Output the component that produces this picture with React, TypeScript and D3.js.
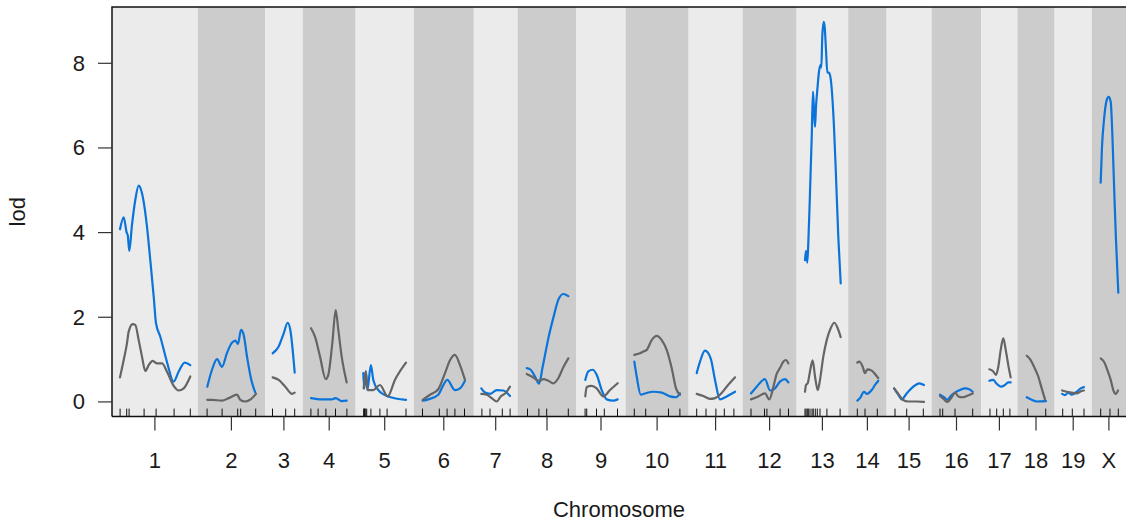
import React from "react";
import * as d3 from "d3";

const chrNames = ["1","2","3","4","5","6","7","8","9","10","11","12","13","14","15","16","17","18","19","X"];
const chrLengths = [118,87,38,63,72,75,48,73,57,80,65,65,61,39,50,58,35,37,37,32];
const gapCM = 25;

const markers: number[][] = [
  [1,12,16,41,61,91,118],
  [3,28,54,59,84],
  [0,22,37],
  [1,13,26,42,61],
  [1,2,3,3.5,6,13,28,40,71.5],
  [2,30,43,56,72],
  [1,14.5,35,48],
  [4,23,36,72],
  [2,4.7,21,34,56],
  [2,21,59,78],
  [1,16.5,33,47,63],
  [1.5,24,28,50,64],
  [1.5,3.2,5.3,7,9.8,13.2,15.3,18.7,22,26.5,38,60],
  [2.7,15.5,36],
  [1.5,21,48.7],
  [1.5,6,26.5,56],
  [1.8,13,24,35],
  [4.7,34.7],
  [1,17,36.5],
  [2.3,17.8,31.7],
];

const lodBlue: number[][][] = [
  [[0.8,4.08],[7,4.36],[12,4.0],[13.7,3.94],[16.3,3.57],[20.8,4.18],[26.3,4.77],[32,5.11],[37.5,4.93],[45.8,4.14],[51.3,3.35],[57,2.49],[60.8,1.86],[68,1.54],[79,0.95],[90.3,0.48],[98.7,0.72],[108.7,0.93],[118,0.87]],
  [[3.3,0.36],[11.2,0.76],[19.5,1.01],[27.8,0.83],[36.2,1.16],[44.5,1.40],[50,1.45],[54.5,1.37],[59.5,1.70],[64,1.58],[69.5,1.07],[76.7,0.52],[83.3,0.22]],
  [[0.3,1.15],[10.3,1.31],[18.7,1.62],[25.3,1.87],[29.7,1.70],[37,0.69]],
  [[1.2,0.09],[19,0.06],[35.7,0.06],[42.3,0.09],[52.3,0.02],[60.7,0.03]],
  [[0.3,0.68],[2,0.32],[4.8,0.72],[7,0.28],[13,0.87],[17,0.52],[25.3,0.28],[42,0.13],[71.5,0.05]],
  [[2.3,0.03],[11.7,0.06],[28.3,0.17],[34,0.32],[43.3,0.52],[56,0.28],[64.5,0.32],[72.8,0.50]],
  [[0,0.32],[6.2,0.22],[14.5,0.19],[25.7,0.28],[36.7,0.27],[47.8,0.14]],
  [[2.7,0.80],[9.3,0.76],[16.5,0.60],[23.2,0.43],[29.3,0.83],[38.7,1.50],[48.2,2.05],[55.3,2.41],[63.7,2.55],[72,2.50]],
  [[2.3,0.52],[7.3,0.72],[14.7,0.76],[21.3,0.64],[29.7,0.28],[38,0.06],[49,0.03],[56.3,0.06]],
  [[2,0.95],[6,0.60],[12.7,0.17],[19.8,0.20],[33.7,0.24],[47.7,0.22],[61.5,0.13],[71.5,0.11],[78.2,0.20]],
  [[1,0.68],[6.5,0.95],[14.8,1.21],[24.3,1.03],[31.5,0.52],[39.8,0.06],[51,0.13],[65,0.24]],
  [[1.5,0.20],[11,0.36],[24.8,0.54],[33.2,0.27],[41.5,0.32],[49.8,0.48],[58.2,0.54],[63.7,0.46]],
  [[1.5,3.35],[3.2,3.57],[5.3,3.29],[7,3.75],[9.8,4.93],[12.7,6.26],[14.8,7.33],[16.5,6.89],[18.2,6.50],[19.8,6.97],[22,7.37],[24.8,7.80],[27,7.96],[28.7,7.90],[30.3,8.63],[32.7,8.98],[34.3,8.86],[36.5,8.31],[38.7,7.78],[41.5,7.78],[44.3,7.64],[47,7.21],[49.8,6.50],[53.2,5.32],[57,3.90],[61,2.80]],
  [[2.7,0.03],[7.2,0.09],[13.8,0.24],[18.3,0.19],[26.7,0.28],[32.2,0.40],[37.7,0.50]],
  [[0,0.32],[7,0.17],[12.7,0.06],[21,0.20],[32,0.36],[42,0.44],[49.8,0.40]],
  [[1.5,0.17],[8.2,0.11],[13.7,0.05],[19.3,0.14],[26.5,0.22],[34.8,0.28],[43.2,0.32],[50.3,0.30],[56,0.24]],
  [[0.7,0.50],[7.3,0.52],[13,0.43],[19.7,0.36],[26.8,0.40],[32.3,0.46],[36.3,0.46]],
  [[3,0.11],[11.3,0.05],[19.7,0.01],[35.2,0.02]],
  [[0,0.19],[4.8,0.16],[10.3,0.22],[16,0.17],[24.3,0.24],[31,0.32],[36.5,0.35]],
  [[2.3,5.18],[4.5,6.03],[7.8,6.66],[12.3,7.13],[15.7,7.21],[19,7.09],[21.7,6.34],[25,4.93],[27.8,3.83],[31.7,2.58]],
];

const lodGray: number[][][] = [
  [[0.8,0.58],[7,0.99],[12.5,1.39],[15.3,1.66],[22,1.84],[26.3,1.82],[32,1.46],[37.5,1.07],[43,0.73],[48.7,0.87],[55.3,0.97],[62.5,0.91],[70.8,0.91],[79,0.72],[90.3,0.38],[98.7,0.27],[107,0.32],[118,0.6]],
  [[3.3,0.05],[11.2,0.05],[27.8,0.03],[39,0.09],[52.8,0.17],[58.3,0.05],[66.2,0.01],[74.5,0.05],[84.5,0.19]],
  [[0.3,0.58],[10.3,0.52],[21.3,0.36],[32.5,0.19],[37,0.22]],
  [[1.2,1.74],[7.8,1.54],[16.2,1.07],[25.7,0.54],[30,0.64],[36.7,1.39],[42.3,2.17],[46.7,1.70],[52.3,1.07],[60.7,0.46]],
  [[1,0.32],[4.3,0.72],[7.7,0.28],[17,0.28],[28,0.40],[41,0.13],[53,0.52],[71.5,0.93]],
  [[2.3,0.05],[14.5,0.17],[28.3,0.30],[39.5,0.68],[48,0.99],[56,1.11],[64.5,0.87],[72.8,0.52]],
  [[0,0.19],[9,0.17],[17.3,0.09],[25.7,0.01],[32.3,0.13],[41.2,0.22],[47.8,0.36]],
  [[2.7,0.66],[11,0.60],[19.3,0.52],[24.8,0.50],[30.3,0.54],[38.7,0.50],[47,0.44],[55.3,0.56],[63.7,0.82],[72,1.03]],
  [[2.3,0.13],[4.7,0.35],[13,0.38],[21.3,0.32],[32.3,0.13],[43.5,0.28],[56.3,0.44]],
  [[2,1.11],[11.5,1.15],[17,1.19],[22.7,1.23],[31,1.46],[39.3,1.56],[47.7,1.46],[56,1.23],[64.3,0.80],[71.5,0.32],[78.2,0.17]],
  [[1,0.19],[12,0.14],[23,0.07],[31.5,0.09],[39.8,0.17],[51,0.36],[65,0.58]],
  [[1.5,0.06],[13.7,0.13],[24.8,0.20],[32,0.06],[38.7,0.35],[44.3,0.66],[49.8,0.80],[55.3,0.95],[59.8,0.99],[63.7,0.91]],
  [[1.5,0.24],[3.2,0.40],[6,0.44],[9.8,0.72],[14.3,0.98],[18.2,0.60],[22.7,0.28],[26.5,0.52],[32,1.07],[37.7,1.46],[44.3,1.74],[50.3,1.87],[56,1.74],[61,1.53]],
  [[2.7,0.93],[6,0.95],[11.7,0.83],[15.5,0.68],[19.3,0.77],[26.7,0.74],[32.2,0.66],[37.7,0.56]],
  [[0,0.32],[7,0.19],[14.3,0.05],[23.7,0.01],[37.7,0.01],[49.8,0]],
  [[1.5,0.14],[8.2,0.06],[13.7,0.0],[21,0.11],[26.5,0.22],[32,0.13],[39.3,0.11],[46,0.14],[56,0.20]],
  [[0.7,0.77],[7.3,0.72],[11.8,0.64],[15.7,0.83],[19.7,1.23],[24,1.50],[28.5,1.19],[32.3,0.87],[36.3,0.58]],
  [[3,1.09],[8.5,1.01],[15.2,0.83],[22.3,0.60],[28,0.32],[33.5,0.06]],
  [[0,0.27],[7.7,0.24],[16,0.22],[24.3,0.20],[32.7,0.26],[36.5,0.27]],
  [[2.3,1.03],[7.8,0.95],[13.3,0.76],[19,0.52],[23.3,0.28],[27.3,0.19],[31.2,0.27]],
];

const yTicks = [0, 2, 4, 6, 8];
const xTitle = "Chromosome";
const yTitle = "lod";

const W = 1126, H = 522;
const M = { left: 112, top: 7, right: 1126, bottom: 416.6 };
const FONT = "'Liberation Sans', Arial, Helvetica, sans-serif";
const FS = 22;

export default function App() {
  const starts: number[] = [];
  let acc = 0;
  chrLengths.forEach((L) => { starts.push(acc); acc += L + gapCM; });
  const total = acc;

  const x = d3.scaleLinear().domain([0, total]).range([M.left, M.right]);
  const y = d3.scaleLinear().domain([-0.347, 9.33]).range([M.bottom, M.top]);
  const origin = (i: number) => starts[i] + gapCM / 2;

  const lineFor = (i: number) =>
    d3.line<number[]>()
      .x((d) => x(origin(i) + d[0]))
      .y((d) => y(d[1]))
      .curve(d3.curveMonotoneX);

  return (
    <svg width={W} height={H} style={{ position: "absolute", left: 0, top: 0, background: "#fff" }} fontFamily={FONT}>
      <defs>
        <clipPath id="plotclip">
          <rect x={M.left} y={M.top} width={M.right - M.left} height={M.bottom - M.top} />
        </clipPath>
      </defs>
      {chrNames.map((c, i) => (
        <rect key={"bg" + c}
          x={x(starts[i])} y={M.top}
          width={x(starts[i] + chrLengths[i] + gapCM) - x(starts[i])}
          height={M.bottom - M.top}
          fill={i % 2 === 0 ? "#ebebeb" : "#cccccc"} />
      ))}
      <g clipPath="url(#plotclip)" fill="none" strokeLinejoin="round" strokeLinecap="round">
        {lodBlue.map((pts, i) => (
          <path key={"b" + i} d={lineFor(i)(pts) || ""} stroke="#0A74DA" strokeWidth={2.2} />
        ))}
        {lodGray.map((pts, i) => (
          <path key={"g" + i} d={lineFor(i)(pts) || ""} stroke="#656565" strokeWidth={2.2} />
        ))}
      </g>
      {markers.map((ms, i) => ms.map((m, j) => (
        <line key={"m" + i + "_" + j}
          x1={x(origin(i) + m)} x2={x(origin(i) + m)}
          y1={M.bottom} y2={M.bottom - 8}
          stroke="#111" strokeWidth={1} />
      )))}
      <path d={`M${M.left},${M.bottom}V${M.top}H${M.right + 2}`} fill="none" stroke="#111" strokeWidth={1.5} />
      <line x1={M.left} x2={M.right + 2} y1={M.bottom} y2={M.bottom} stroke="#111" strokeWidth={1.5} />
      {yTicks.map((t) => (
        <g key={"yt" + t}>
          <line x1={M.left - 14} x2={M.left} y1={y(t)} y2={y(t)} stroke="#333" strokeWidth={1.2} />
          <text x={M.left - 27} y={y(t)} textAnchor="end" dominantBaseline="central" fontSize={FS} fill="#1a1a1a">{t}</text>
        </g>
      ))}
      {chrNames.map((c, i) => {
        const cx = x(origin(i) + chrLengths[i] / 2);
        return (
          <g key={"xl" + c}>
            <line x1={cx} x2={cx} y1={M.bottom} y2={M.bottom + 14} stroke="#333" strokeWidth={1.2} />
            <text x={cx} y={468} textAnchor="middle" fontSize={FS} fill="#1a1a1a">{c}</text>
          </g>
        );
      })}
      <text x={(M.left + M.right) / 2} y={517} textAnchor="middle" fontSize={FS} fill="#1a1a1a">{xTitle}</text>
      <text transform={`translate(25,${(M.top + M.bottom) / 2}) rotate(-90)`} textAnchor="middle" fontSize={FS} fill="#1a1a1a">{yTitle}</text>
    </svg>
  );
}
